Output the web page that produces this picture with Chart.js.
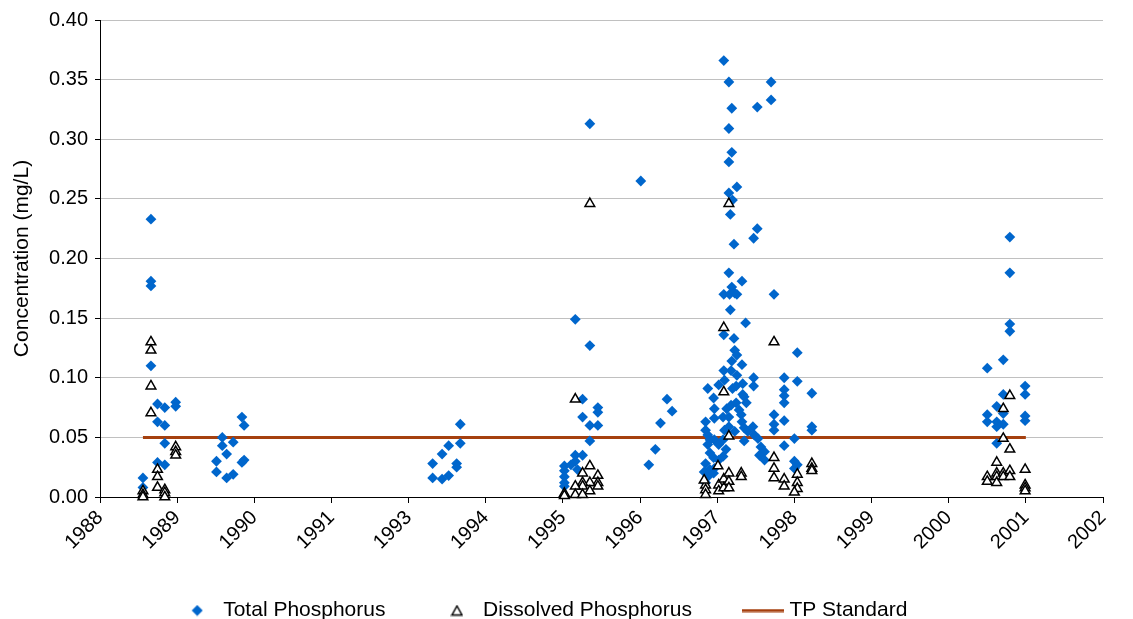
<!DOCTYPE html>
<html>
<head>
<meta charset="utf-8">
<title>Phosphorus concentration</title>
<script src="https://cdn.jsdelivr.net/npm/chart.js@4.4.1/dist/chart.umd.min.js"></script>
<style>
  html, body { margin: 0; padding: 0; background: #fff; }
  #wrap { width: 1133px; height: 619px; position: relative; }
</style>
</head>
<body>
<div id="wrap"><canvas id="grafik"></canvas></div>
<script>
// x axis: Excel date axis, one tick every ~387 days starting Oct 1988 (so 1992 never shows)
const tickLabels = ['1988', '1989', '1990', '1991', '1993', '1994', '1995', '1996', '1997', '1998', '1999', '2000', '2001', '2002'];
const axisStart = 1988.77;
const axisStep = 1.06;
const yTicks = [0, 0.05, 0.10, 0.15, 0.20, 0.25, 0.30, 0.35, 0.40];

// Total Phosphorus (mg/L), sample dates as decimal years
const tpDates = [
  1989.36, 1989.36, 1989.47, 1989.47, 1989.47, 1989.47, 1989.56, 1989.66, 1989.81, 1989.81, 1989.56, 1989.66, 1989.66, 1989.56, 1989.66,
  1990.37, 1990.37, 1990.45, 1990.45, 1990.51, 1990.51, 1990.60, 1990.60, 1990.72, 1990.75, 1990.72, 1990.75,
  1993.34, 1993.34, 1993.47, 1993.47, 1993.56, 1993.56, 1993.67, 1993.67, 1993.72, 1993.72,
  1995.30, 1995.50, 1995.50, 1995.40, 1995.40, 1995.61, 1995.61, 1995.50, 1995.61, 1995.50, 1995.30, 1995.40, 1995.15, 1995.15, 1995.15, 1995.15, 1995.15, 1995.24, 1995.30, 1995.33,
  1996.20, 1996.31, 1996.40, 1996.47, 1996.56, 1996.63,
  1997.34, 1997.41, 1997.45, 1997.41, 1997.45, 1997.41, 1997.52, 1997.41, 1997.46, 1997.43,
  1997.48, 1997.41, 1997.59, 1997.45, 1997.34, 1997.42, 1997.49, 1997.52, 1997.43, 1997.64,
  1997.34, 1997.48, 1997.49, 1997.52, 1997.45, 1997.59, 1997.44, 1997.34, 1997.52, 1997.75,
  1997.75, 1997.12, 1997.27, 1997.35, 1997.46, 1997.60, 1997.62, 1997.65, 1997.51, 1997.51,
  1997.60, 1997.20, 1997.21, 1997.38, 1997.44, 1997.21, 1997.33, 1997.41, 1997.58, 1997.55,
  1997.59, 1997.09, 1997.09, 1997.12, 1997.15, 1997.12, 1997.21, 1997.27, 1997.35, 1997.41,
  1997.49, 1997.62, 1997.62, 1997.67, 1997.74, 1997.76, 1997.81, 1997.85, 1997.90, 1997.83,
  1997.90, 1997.15, 1997.20, 1997.27, 1997.33, 1997.33, 1997.37, 1997.09, 1997.15, 1997.21,
  1997.12, 1997.20, 1997.07, 1997.09,
  1997.80, 1997.80, 1997.75, 1997.99, 1997.99, 1998.03, 1998.35, 1998.17, 1998.35, 1998.55,
  1998.17, 1998.17, 1998.17, 1998.03, 1998.17, 1998.03, 1998.03, 1998.55, 1998.55, 1998.31,
  1998.17, 1998.31, 1998.35, 1998.31,
  2001.27, 2001.27, 2001.27, 2001.27, 2000.96, 2001.18, 2001.48, 2001.48, 2001.18, 2001.09,
  2001.18, 2000.96, 2000.96, 2001.09, 2001.09, 2001.18, 2001.48, 2001.48, 2001.09
];
const tpValues = [
  0.016, 0.008, 0.233, 0.181, 0.177, 0.110, 0.078, 0.075, 0.0795, 0.076, 0.063, 0.060, 0.045, 0.029, 0.027,
  0.030, 0.021, 0.050, 0.043, 0.036, 0.016, 0.046, 0.019, 0.067, 0.060, 0.029, 0.031,
  0.028, 0.016, 0.036, 0.015, 0.043, 0.018, 0.028, 0.025, 0.061, 0.045,
  0.149, 0.313, 0.127, 0.082, 0.067, 0.075, 0.071, 0.060, 0.060, 0.047, 0.035, 0.035, 0.026, 0.022, 0.017, 0.012, 0.009, 0.027, 0.030, 0.023,
  0.265, 0.027, 0.040, 0.062, 0.082, 0.072,
  0.366, 0.348, 0.326, 0.309, 0.289, 0.281, 0.260, 0.255, 0.249, 0.237,
  0.212, 0.188, 0.181, 0.176, 0.170, 0.170, 0.171, 0.170, 0.157, 0.146,
  0.136, 0.133, 0.123, 0.119, 0.114, 0.111, 0.106, 0.106, 0.102, 0.100,
  0.093, 0.091, 0.094, 0.098, 0.091, 0.095, 0.084, 0.079, 0.079, 0.093,
  0.086, 0.083, 0.074, 0.074, 0.077, 0.066, 0.067, 0.067, 0.069, 0.073,
  0.063, 0.063, 0.056, 0.052, 0.048, 0.044, 0.048, 0.044, 0.056, 0.059,
  0.055, 0.047, 0.058, 0.055, 0.059, 0.052, 0.049, 0.042, 0.038, 0.035,
  0.031, 0.037, 0.033, 0.031, 0.034, 0.048, 0.040, 0.028, 0.023, 0.024,
  0.017, 0.020, 0.021, 0.012,
  0.327, 0.225, 0.217, 0.348, 0.333, 0.170, 0.121, 0.100, 0.097, 0.087,
  0.090, 0.085, 0.079, 0.069, 0.064, 0.061, 0.056, 0.059, 0.056, 0.049,
  0.043, 0.030, 0.027, 0.024,
  0.218, 0.188, 0.145, 0.139, 0.108, 0.115, 0.093, 0.086, 0.086, 0.076,
  0.070, 0.069, 0.063, 0.063, 0.059, 0.061, 0.068, 0.064, 0.045
];

// Dissolved Phosphorus (mg/L)
const dpDates = [
  1989.47, 1989.47, 1989.47, 1989.47, 1989.56, 1989.56, 1989.56, 1989.66, 1989.66, 1989.66, 1989.36, 1989.36, 1989.36, 1989.81, 1989.81, 1989.81,
  1995.30, 1995.50, 1995.50, 1995.40, 1995.61, 1995.61, 1995.61, 1995.50, 1995.40, 1995.40, 1995.30, 1995.50, 1995.15, 1995.15, 1995.30, 1995.40,
  1997.34, 1997.41, 1997.34, 1997.41, 1997.26, 1997.09, 1997.09, 1997.09, 1997.07, 1997.27, 1997.27, 1997.34, 1997.34, 1997.41, 1997.41, 1997.41, 1997.58, 1997.58,
  1998.03, 1998.03, 1998.03, 1998.03, 1998.17, 1998.17, 1998.35, 1998.35, 1998.35, 1998.31, 1998.55, 1998.55, 1998.55,
  2001.27, 2001.18, 2001.18, 2001.27, 2001.09, 2001.48, 2000.96, 2000.96, 2001.09, 2001.09, 2001.09, 2001.18, 2001.18, 2001.27, 2001.27, 2001.48, 2001.48, 2001.48
];
const dpValues = [
  0.130, 0.123, 0.093, 0.0705, 0.023, 0.017, 0.008, 0.006, 0.0035, 0.000, 0.005, 0.002, 0.000, 0.042, 0.038, 0.035,
  0.082, 0.246, 0.026, 0.020, 0.018, 0.012, 0.009, 0.012, 0.012, 0.009, 0.009, 0.005, 0.003, 0.001, 0.002, 0.002,
  0.142, 0.246, 0.088, 0.051, 0.026, 0.010, 0.006, 0.002, 0.014, 0.010, 0.005, 0.015, 0.0075, 0.020, 0.013, 0.0075, 0.020, 0.017,
  0.130, 0.033, 0.024, 0.016, 0.015, 0.009, 0.019, 0.012, 0.007, 0.004, 0.028, 0.024, 0.022,
  0.085, 0.074, 0.049, 0.040, 0.029, 0.023, 0.017, 0.013, 0.020, 0.017, 0.012, 0.020, 0.017, 0.022, 0.017, 0.010, 0.0075, 0.005
];

// TP standard 0.05 mg/L over the sampling period
const stdDates = [1989.36, 2001.49];
const stdValues = [0.05, 0.05];

const biru = '#0066CC';
const coklat = '#A5400F';

function toPoints(xs, ys) {
  return xs.map((x, i) => ({ x: x, y: ys[i] }));
}

// small canvases used as legend symbols
function buatIkon(w, h, gambar) {
  const c = document.createElement('canvas');
  c.width = w;
  c.height = h;
  gambar(c.getContext('2d'));
  return c;
}
const ikonTP = buatIkon(12, 12, (g) => {
  g.fillStyle = biru;
  g.beginPath();
  g.moveTo(6, 0.5); g.lineTo(11.5, 6); g.lineTo(6, 11.5); g.lineTo(0.5, 6);
  g.closePath();
  g.fill();
});
const ikonDP = buatIkon(13, 12, (g) => {
  g.fillStyle = '#fff';
  g.strokeStyle = '#000';
  g.lineWidth = 1.5;
  g.beginPath();
  g.moveTo(6.5, 1.5); g.lineTo(11.5, 10.5); g.lineTo(1.5, 10.5);
  g.closePath();
  g.fill();
  g.stroke();
});
const ikonStd = buatIkon(42, 4, (g) => {
  g.fillStyle = coklat;
  g.fillRect(0, 0.5, 42, 3);
});
const ikonLegenda = [ikonTP, ikonDP, ikonStd];

// Excel puts the legend a little left of centre and higher inside its box than Chart.js does
const geserLegenda = {
  id: 'geserLegenda',
  afterLayout(chart) {
    const lg = chart.legend;
    lg.left -= 7; lg.right -= 7;
    lg.top -= 13;
  }
};

Chart.defaults.font.family = '"Liberation Sans", Arial, sans-serif';
Chart.defaults.color = '#000';

const ctx = document.getElementById('grafik').getContext('2d');
new Chart(ctx, {
  type: 'scatter',
  data: {
    datasets: [
      {
        label: 'Total Phosphorus',
        data: toPoints(tpDates, tpValues),
        pointStyle: 'rectRot',
        pointRadius: 5.4,
        pointHoverRadius: 5.4,
        pointBorderWidth: 0,
        backgroundColor: biru,
        borderColor: biru,
        clip: false,
        order: 2
      },
      {
        label: 'Dissolved Phosphorus',
        data: toPoints(dpDates, dpValues),
        pointStyle: 'triangle',
        pointRadius: 5.6,
        pointHoverRadius: 5.6,
        pointBorderWidth: 1.5,
        backgroundColor: '#fff',
        borderColor: '#000',
        clip: false,
        order: 1
      },
      {
        label: 'TP Standard',
        type: 'line',
        data: toPoints(stdDates, stdValues),
        borderColor: coklat,
        backgroundColor: coklat,
        borderWidth: 3,
        pointRadius: 0,
        fill: false,
        order: 3
      }
    ]
  },
  options: {
    responsive: true,
    maintainAspectRatio: false,
    animation: false,
    devicePixelRatio: 1,
    layout: { padding: { top: 20, right: 30, left: 0, bottom: 0 } },
    scales: {
      x: {
        type: 'linear',
        min: axisStart,
        max: axisStart + axisStep * (tickLabels.length - 1),
        afterBuildTicks: (scale) => {
          scale.ticks = tickLabels.map((t, i) => ({ value: axisStart + i * axisStep }));
        },
        afterFit: (scale) => { scale.height = 60; },
        grid: { drawOnChartArea: false, drawTicks: true, tickLength: 6, tickColor: '#000' },
        border: { color: '#000', width: 1 },
        ticks: {
          autoSkip: false,
          minRotation: 45,
          maxRotation: 45,
          padding: 3,
          font: { size: 20 },
          callback: (v, i) => tickLabels[i]
        }
      },
      y: {
        min: 0,
        max: 0.4,
        afterBuildTicks: (scale) => {
          scale.ticks = yTicks.map((v) => ({ value: v }));
        },
        afterFit: (scale) => { scale.width = 100; },
        grid: { color: '#c0c0c0', tickColor: '#000', tickLength: 5 },
        border: { color: '#000', width: 1 },
        ticks: {
          padding: 7,
          font: { size: 20 },
          callback: (v) => v.toFixed(2)
        },
        title: {
          display: true,
          text: 'Concentration (mg/L)',
          font: { size: 21 },
          padding: { top: 10, bottom: 0 }
        }
      }
    },
    plugins: {
      tooltip: { enabled: false },
      legend: {
        position: 'bottom',
        maxHeight: 62,
        labels: {
          usePointStyle: true,
          pointStyleWidth: 31,
          padding: 56,
          font: { size: 21 },
          generateLabels: (chart) => chart.data.datasets.map((ds, i) => ({
            text: ds.label,
            datasetIndex: i,
            hidden: false,
            pointStyle: ikonLegenda[i],
            fillStyle: ds.backgroundColor,
            strokeStyle: ds.borderColor,
            lineWidth: 0,
            fontColor: '#000'
          }))
        }
      }
    }
  },
  plugins: [geserLegenda]
});
</script>
</body>
</html>
